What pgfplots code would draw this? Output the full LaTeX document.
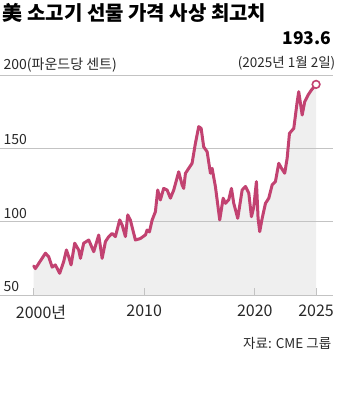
\documentclass[border=0pt]{standalone}
\usepackage{fontspec}
\setmainfont{Noto Sans CJK KR}
\usepackage{pgfplots}
\usepackage{pgfplotstable}
\pgfplotsset{compat=1.18}
\definecolor{beef}{RGB}{194,66,113}
\definecolor{areagray}{RGB}{239,239,239}
\definecolor{gridgray}{RGB}{195,195,195}
\definecolor{txt}{RGB}{40,40,40}
\pgfplotstableread{
year value
2000.00 69.8
2000.15 68
2001.06 78.5
2001.36 76
2001.67 69
2001.96 70.5
2002.35 64.8
2002.71 72.7
2002.96 80.7
2003.17 76
2003.38 70.5
2003.71 85.3
2004.07 80.7
2004.23 75
2004.52 85.3
2004.98 87.5
2005.43 79.5
2005.88 90.9
2006.19 75
2006.49 86.4
2006.79 89.8
2007.10 92
2007.39 89.8
2007.78 101.2
2008.00 97.7
2008.30 89.8
2008.51 104.6
2008.75 101
2009.05 92
2009.20 87.5
2009.65 88.5
2010.11 91
2010.26 94.3
2010.47 93
2010.71 101
2011.01 106.8
2011.22 121.6
2011.46 114.8
2011.76 122.7
2012.07 121.6
2012.37 116
2012.67 121.6
2013.12 134
2013.43 125
2013.57 122.7
2013.73 133
2014.03 136.4
2014.33 139.8
2014.63 153.4
2014.93 164.8
2015.15 163.6
2015.38 151
2015.69 147.7
2015.99 133
2016.14 136.4
2016.44 123.9
2016.83 101.2
2017.14 116
2017.35 112.5
2017.65 115
2017.89 122.7
2018.10 112.5
2018.46 102.3
2018.86 121.6
2019.16 124
2019.46 119.4
2019.70 103.4
2019.91 110
2020.15 127.3
2020.30 102.3
2020.45 93.2
2020.67 102.3
2020.97 112.5
2021.27 116
2021.57 125
2021.87 127.3
2022.17 139.8
2022.42 136.4
2022.71 133
2022.93 143.2
2023.14 160.2
2023.53 163.6
2023.84 181.8
2023.98 188.6
2024.29 172.7
2024.52 181.8
2024.83 186.4
2025.13 189.8
2025.55 193.6
}\beefdata
\begin{document}
\begin{tikzpicture}
\begin{axis}[
  at={(0pt,0pt)}, anchor=origin,
  scale only axis, width=333pt, height=220pt,
  set layers,
  xmin=1996.99, xmax=2027.12,
  ymin=50, ymax=200,
  axis line style={draw=none},
  ymajorgrids, grid style={gridgray, line width=0.9pt},
  xtick={2000,2010,2020,2025.55},
  xticklabels={2000\makebox[0pt][l]{년},2010,2020,2025},
  ytick={50,100,150,200},
  yticklabels={50,100,150,200(파운드당 센트)},
  tick align=inside, xtick pos=bottom, ytick pos=left,
  major tick length=7pt,
  xtick style={gridgray, line width=0.9pt},
  ytick style={draw=none},
  /pgf/number format/assume math mode=true,
  xticklabel style={font=\fontsize{16}{16}\selectfont, text=txt, inner sep=0pt, anchor=north, yshift=-10pt},
  yticklabel style={font=\fontsize{14}{14}\selectfont, text=txt, inner sep=0pt, anchor=south west, xshift=3pt, yshift=3pt},
  clip=false,
]
\addplot[on layer=axis background, fill=areagray, draw=none] table[x=year,y=value]{\beefdata} \closedcycle;
\addplot[beef, line width=3pt, line join=round, line cap=round] table[x=year,y=value]{\beefdata};
\addplot[only marks, mark=*, mark size=3.8pt, mark options={fill=white, draw=beef, line width=1.6pt}] coordinates {(2025.55,193.6)};
\end{axis}
\node[anchor=west, inner sep=0pt, font=\fontsize{20}{20}\selectfont\bfseries] at (2pt,282pt) {美 소고기 선물 가격 사상 최고치};
\node[anchor=east, inner sep=0pt, font=\fontsize{17.5}{17.5}\selectfont\bfseries] at (331pt,257pt) {193.6};
\node[anchor=east, inner sep=0pt, font=\fontsize{13.5}{13.5}\selectfont, text=txt] at (335pt,232pt) {(2025년 1월 2일)};
\node[anchor=east, inner sep=0pt, font=\fontsize{13.5}{13.5}\selectfont, text=txt] at (331pt,-48pt) {자료: CME 그룹};
\path (0pt,-98pt) rectangle (340pt,295pt);
\end{tikzpicture}
\end{document}
